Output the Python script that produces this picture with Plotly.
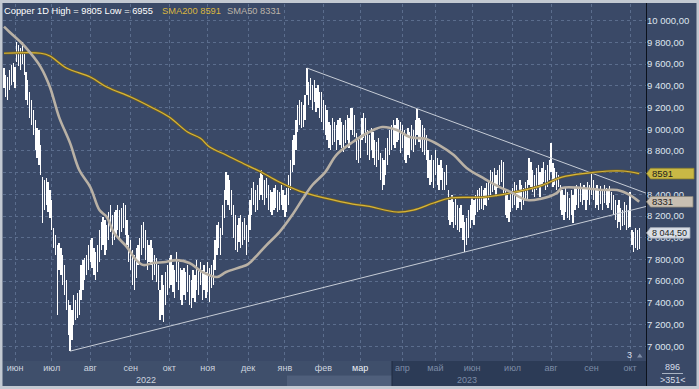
import plotly.graph_objects as go
import pandas as pd

# ---------------- data ----------------
holidays = ["2022-06-02", "2022-06-03", "2022-08-29", "2022-09-19", "2022-12-26", "2022-12-27",
            "2023-01-02", "2023-04-07", "2023-04-10", "2023-05-01", "2023-05-08", "2023-05-29",
            "2023-08-28"]
trading_days = pd.bdate_range("2022-05-24", "2023-10-09")
trading_days = trading_days[~trading_days.isin(pd.to_datetime(holidays))]

high_by_month = [
    [9564, 9500, 9482, 9546, 9592, 9610],
    [9573, 9805, 9776, 9748, 9803, 9711, 9527, 9453, 9343, 9269, 9177, 9085, 9011, 8993, 8854, 8559, 8532, 8550, 8513, 8440],
    [8347, 8089, 8025, 7932, 7951, 7905, 7840, 7748, 7610, 7426, 7380, 7334, 7472, 7426, 7490, 7518, 7748, 7794, 7812, 7840, 7932],
    [7979, 7997, 7905, 7868, 7932, 8071, 8145, 8191, 8163, 8117, 8237, 8301, 8209, 8237, 8255, 8301, 8255, 8273, 8320, 8301, 8163, 8025],
    [7979, 7887, 7840, 7905, 7932, 7997, 8117, 8145, 8071, 7979, 7932, 7979, 7905, 7840, 7812, 7748, 7518, 7656, 7564, 7684, 7748],
    [7812, 7840, 7748, 7702, 7868, 7776, 7720, 7702, 7720, 7684, 7748, 7656, 7610, 7702, 7656, 7794, 7720, 7776, 7702, 7748, 7684],
    [7776, 7720, 7748, 7794, 7979, 8117, 8145, 8089, 8301, 8440, 8606, 8578, 8532, 8440, 8301, 8209, 8117, 8181, 8209, 8145, 8181, 8117],
    [8209, 8347, 8458, 8513, 8440, 8486, 8550, 8624, 8578, 8532, 8550, 8486, 8440, 8421, 8458, 8486, 8440, 8421, 8486, 8440],
    [8393, 8458, 8578, 8716, 8900, 8946, 9085, 9223, 9269, 9250, 9223, 9315, 9564, 9435, 9472, 9407, 9453, 9380, 9407, 9343, 9343],
    [9269, 9223, 9177, 9066, 9039, 9103, 9066, 9039, 9085, 9103, 9066, 9039, 9085, 9131, 9103, 9200, 9195, 9131, 8965, 8919],
    [8946, 9103, 9149, 9103, 8993, 8946, 9011, 8974, 8900, 8882, 8919, 8780, 8735, 8716, 8826, 8919, 8993, 9039, 9085, 9039, 9103, 9085, 9066],
    [9039, 8993, 8946, 9011, 8974, 9039, 8993, 9085, 9186, 9103, 9085, 9039, 9011, 8946, 8808, 8716, 8762, 8716],
    [8808, 8735, 8670, 8716, 8643, 8606, 8670, 8440, 8347, 8393, 8329, 8366, 8301, 8273, 8301, 8209, 8145, 8181, 8255, 8301],
    [8366, 8347, 8393, 8440, 8458, 8476, 8440, 8458, 8504, 8532, 8624, 8606, 8643, 8578, 8624, 8670, 8716, 8698, 8440, 8393, 8347, 8421],
    [8458, 8513, 8486, 8440, 8532, 8486, 8458, 8513, 8532, 8734, 8698, 8624, 8578, 8643, 8670, 8606, 8643, 8698, 8624, 8670, 8716],
    [8873, 8689, 8643, 8606, 8578, 8486, 8440, 8393, 8458, 8421, 8366, 8440, 8393, 8458, 8486, 8458, 8504, 8458, 8486, 8458, 8513, 8486],
    [8605, 8532, 8458, 8486, 8440, 8476, 8440, 8486, 8458, 8440, 8476, 8421, 8393, 8347, 8301, 8347, 8273, 8255, 8329, 8301, 8255],
    [8421, 8071, 8052, 8089, 8071, 8089],
]
low_by_month = [
    [9380, 9297, 9269, 9361, 9407, 9435],
    [9380, 9620, 9582, 9546, 9601, 9500, 9269, 9223, 9103, 9039, 8946, 8808, 8735, 8670, 8578, 8135, 8255, 8301, 8237, 8181],
    [8071, 7905, 7841, 7287, 7702, 7656, 7564, 7472, 7334, 7103, 6955, 7057, 7195, 7241, 7260, 7287, 7426, 7518, 7610, 7656, 7702],
    [7776, 7720, 7656, 7610, 7684, 7776, 7887, 7932, 7840, 7887, 7979, 8052, 7932, 7979, 8025, 8071, 7979, 8052, 8089, 8025, 7932, 7776],
    [7702, 7564, 7518, 7628, 7748, 7776, 7840, 7905, 7794, 7702, 7776, 7748, 7610, 7656, 7592, 7518, 7241, 7287, 7223, 7380, 7472],
    [7536, 7564, 7500, 7444, 7592, 7518, 7426, 7380, 7472, 7426, 7500, 7380, 7352, 7444, 7407, 7518, 7472, 7564, 7426, 7518, 7444],
    [7500, 7407, 7536, 7564, 7702, 7840, 7905, 7840, 8025, 8181, 8347, 8301, 8255, 8209, 7997, 7887, 7868, 7960, 7905, 7932, 7979, 7840],
    [7960, 8071, 8209, 8301, 8237, 8255, 8347, 8393, 8347, 8301, 8366, 8255, 8237, 8209, 8255, 8273, 8237, 8255, 8301, 8255],
    [8191, 8237, 8301, 8440, 8605, 8670, 8808, 8974, 9039, 9011, 9020, 9085, 9315, 9223, 9269, 9177, 9250, 9159, 9195, 9103, 9066],
    [8993, 8946, 8900, 8826, 8808, 8854, 8882, 8808, 8900, 8854, 8826, 8790, 8873, 8900, 8826, 8993, 8946, 8928, 8716, 8689],
    [8735, 8900, 8919, 8873, 8762, 8716, 8808, 8735, 8670, 8652, 8716, 8532, 8440, 8486, 8578, 8670, 8762, 8808, 8854, 8826, 8882, 8900, 8780],
    [8826, 8716, 8689, 8762, 8735, 8808, 8790, 8854, 8946, 8882, 8826, 8790, 8762, 8716, 8550, 8486, 8513, 8458],
    [8578, 8486, 8440, 8532, 8440, 8440, 8486, 8163, 8117, 8145, 8089, 8117, 8071, 8052, 8089, 7979, 7868, 7932, 7997, 8089],
    [8163, 8117, 8209, 8237, 8255, 8264, 8255, 8301, 8292, 8347, 8393, 8421, 8440, 8375, 8458, 8486, 8513, 8412, 8209, 8181, 8145, 8237],
    [8273, 8301, 8255, 8273, 8329, 8255, 8301, 8347, 8347, 8486, 8467, 8421, 8375, 8440, 8458, 8375, 8486, 8513, 8440, 8467, 8532],
    [8605, 8467, 8486, 8440, 8467, 8255, 8209, 8163, 8237, 8181, 8163, 8209, 8135, 8255, 8301, 8273, 8329, 8301, 8347, 8255, 8347, 8301],
    [8393, 8347, 8273, 8301, 8255, 8310, 8255, 8320, 8301, 8273, 8320, 8255, 8209, 8163, 8089, 8145, 8071, 8108, 8117, 8071, 8089],
    [8099, 7932, 7868, 7905, 7887, 7900],
]
last_close = 8044.5

sma200_idx = [0, 20, 25, 34, 47, 56, 69, 80, 90, 100, 107, 112, 121, 132, 139, 150, 161, 175, 190, 198,
              214, 223, 234, 243, 262, 281, 292, 304, 318, 330, 337, 346]
sma200_val = [9700, 9700, 9675, 9564, 9481, 9389, 9297, 9205, 9112, 8974, 8916, 8836, 8762, 8670, 8615, 8513,
              8430, 8365, 8310, 8292, 8237, 8255, 8320, 8366, 8375, 8430, 8476, 8559, 8596, 8615, 8615, 8591]
sma50_idx = [0, 3, 9, 14, 20, 25, 30, 36, 41, 47, 52, 56, 60, 67, 72, 76, 81, 88, 94, 101, 108, 116, 121, 129,
             133, 138, 143, 150, 157, 163, 168, 175, 181, 190, 199, 206, 214, 221, 230, 237, 245, 252, 262, 270,
             276, 285, 292, 301, 304, 315, 326, 334, 341, 346]
sma50_val = [9945, 9896, 9804, 9711, 9573, 9389, 9112, 8872, 8624, 8467, 8255, 8191, 8043, 7914, 7794, 7748, 7767,
             7776, 7794, 7767, 7684, 7638, 7684, 7730, 7757, 7840, 7932, 8052, 8209, 8366, 8486, 8605, 8762, 8882,
             8974, 9020, 8993, 8928, 8910, 8854, 8762, 8643, 8541, 8467, 8421, 8347, 8357, 8412, 8458, 8458, 8440,
             8440, 8393, 8331]

trend_upper_idx = [165, 349.7]
trend_upper_val = [9564, 8411]
trend_lower_idx = [36, 349.7]
trend_lower_val = [6955, 8288]

month_names = ['янв', 'фев', 'мар', 'апр', 'май', 'июн', 'июл', 'авг', 'сен', 'окт', 'ноя', 'дек']
price_ticks = list(range(7000, 10001, 200))
hidden_price_labels = [8600]   # covered by the SMA200 price tag
bars_visible = 351
scroll_value = 896

# ---------------- build ----------------
high = [v for m in high_by_month for v in m]
low = [v for m in low_by_month for v in m]
idx = list(range(len(high)))

tick_idx, tick_text = [], []
prev = None
for i, d in enumerate(trading_days[:len(high)]):
    key = (d.year, d.month)
    if key != prev and i > 0:
        tick_idx.append(i)
        name = month_names[d.month - 1]
        if d.year == 2022 or d.month <= 2:
            col = '#cdd4df'
        elif d.month == 3:
            col = '#eef1f6'
        else:
            col = '#7d8ca6'
        tick_text.append(f'<span style="color:{col}">{name}</span>')
    prev = key

ytext = ['' if v in hidden_price_labels else f"{v:,.2f}".replace(',', ' ').replace('.', ',')
         for v in price_ticks]

FONT = "Liberation Sans, Arial, sans-serif"
GRID = '#5b6d8d'
BG = '#3a4967'


def px(xp):
    return (xp - 3) / 643.0


def py(yp):
    return (361 - yp) / 357.0


fig = go.Figure()
fig.add_trace(go.Bar(x=idx, y=[h - l for h, l in zip(high, low)], base=low, width=0.16,
                     marker=dict(color='#ffffff', line=dict(width=0)), hoverinfo='skip'))
fig.add_trace(go.Scatter(x=trend_upper_idx, y=trend_upper_val, mode='lines',
                         line=dict(color='#c6ccd6', width=1), hoverinfo='skip'))
fig.add_trace(go.Scatter(x=trend_lower_idx, y=trend_lower_val, mode='lines',
                         line=dict(color='#c6ccd6', width=1), hoverinfo='skip'))
fig.add_trace(go.Scatter(x=sma200_idx, y=sma200_val, mode='lines', line_shape='spline',
                         line=dict(color='#6f5e22', width=2.6), hoverinfo='skip'))
fig.add_trace(go.Scatter(x=sma200_idx, y=sma200_val, mode='lines', line_shape='spline',
                         line=dict(color='#d6b53c', width=1.2), hoverinfo='skip'))
fig.add_trace(go.Scatter(x=sma50_idx, y=sma50_val, mode='lines', line_shape='spline',
                         line=dict(color='#b9b1a5', width=2.6), hoverinfo='skip'))

shapes = []
# bottom axis strip
shapes.append(dict(type='rect', xref='paper', yref='paper', x0=px(0), x1=px(392), y0=py(386), y1=py(361),
                   fillcolor='#3f4f6b', line=dict(width=0), layer='below'))
shapes.append(dict(type='rect', xref='paper', yref='paper', x0=px(287), x1=px(392), y0=py(386), y1=py(375.5),
                   fillcolor='#4f5f7b', line=dict(width=0), layer='below'))
shapes.append(dict(type='rect', xref='paper', yref='paper', x0=px(392), x1=px(646), y0=py(386), y1=py(361),
                   fillcolor='#2c3b56', line=dict(width=0), layer='below'))
shapes.append(dict(type='line', xref='paper', yref='paper', x0=px(392), x1=px(392), y0=py(386), y1=py(361),
                   line=dict(color='#1f2b41', width=1)))
# separator between plot and right axis
shapes.append(dict(type='line', xref='paper', yref='paper', x0=px(646.5), x1=px(646.5), y0=py(387), y1=py(3),
                   line=dict(color='#0c121c', width=1)))
# outer frame
shapes.append(dict(type='rect', xref='paper', yref='paper', x0=px(1), x1=px(698), y0=py(387.5), y1=py(1.5),
                   line=dict(color='#c3c9d2', width=3), fillcolor='rgba(0,0,0,0)'))
# price tags
tags = [(sma200_val[-1], '#c9b845', '#8f8330', str(sma200_val[-1]), 694, 9.5),
        (sma50_val[-1], '#c8bfb2', '#8c857a', str(sma50_val[-1]), 693, 9.5),
        (last_close, '#d9dee6', '#9aa2ae', f"{last_close:,.2f}".replace(',', ' ').replace('.', ','), 690, 9)]
annotations = []
for v, fc, lc, txt, right, fs in tags:
    h = 5.3 * 9.217
    shapes.append(dict(type='path', xref='paper', yref='y',
                       path=f"M {px(646.5)},{v} L {px(650.5)},{v + h} L {px(right)},{v + h} "
                            f"L {px(right)},{v - h} L {px(650.5)},{v - h} Z",
                       fillcolor=fc, line=dict(color=lc, width=0.8), layer='above'))
    annotations.append(dict(xref='paper', yref='y', x=px(650), y=v, text=txt, showarrow=False,
                            xanchor='left', yanchor='middle', font=dict(size=fs, color='#1e1e1e', family=FONT)))

# small arrow near "3"
shapes.append(dict(type='path', xref='paper', yref='paper',
                   path=f"M {px(637)},{py(357.5)} L {px(642.5)},{py(357.5)} L {px(639.75)},{py(353.5)} Z",
                   fillcolor='#7f8da6', line=dict(width=0)))
# line under scroll value
shapes.append(dict(type='line', xref='paper', yref='paper', x0=px(662), x1=px(683), y0=py(373.5), y1=py(373.5),
                   line=dict(color='#a9b3c3', width=1)))

legend_txt = f"Copper 1D High = {max(high)} Low = {min(low)}"
annotations += [
    dict(xref='paper', yref='paper', x=px(2), y=py(10.5), text=legend_txt, showarrow=False,
         xanchor='left', yanchor='middle', font=dict(size=9.3, color='#ffffff', family=FONT)),
    dict(xref='paper', yref='paper', x=px(160), y=py(10.5), text=f"SMA200 {sma200_val[-1]}", showarrow=False,
         xanchor='left', yanchor='middle', font=dict(size=9.3, color='#d9b640', family=FONT)),
    dict(xref='paper', yref='paper', x=px(225), y=py(10.5), text=f"SMA50 {sma50_val[-1]}", showarrow=False,
         xanchor='left', yanchor='middle', font=dict(size=9.3, color='#bcb4a9', family=FONT)),
    dict(xref='paper', yref='paper', x=px(146), y=py(380), text='2022', showarrow=False,
         xanchor='center', yanchor='middle', font=dict(size=9, color='#cdd4df', family=FONT)),
    dict(xref='paper', yref='paper', x=px(467), y=py(380), text='2023', showarrow=False,
         xanchor='center', yanchor='middle', font=dict(size=9, color='#7d8ca6', family=FONT)),
    dict(xref='paper', yref='paper', x=px(629), y=py(355), text='3', showarrow=False,
         xanchor='center', yanchor='middle', font=dict(size=9, color='#d6dde8', family=FONT)),
    dict(xref='paper', yref='paper', x=px(672.5), y=py(367), text=str(scroll_value), showarrow=False,
         xanchor='center', yanchor='middle', font=dict(size=9, color='#d6dde8', family=FONT)),
    dict(xref='paper', yref='paper', x=px(672.5), y=py(380), text=f">{bars_visible}<", showarrow=False,
         xanchor='center', yanchor='middle', font=dict(size=9, color='#d6dde8', family=FONT)),
]

fig.update_layout(
    width=699, height=389,
    margin=dict(l=3, r=53, t=4, b=28, pad=0),
    paper_bgcolor=BG, plot_bgcolor=BG,
    showlegend=False, bargap=0,
    font=dict(family=FONT, size=9.5, color='#dfe5ee'),
    shapes=shapes, annotations=annotations,
    xaxis=dict(range=[-0.54, 349.7], tickmode='array', tickvals=tick_idx, ticktext=tick_text,
               showgrid=True, gridcolor=GRID, griddash='3px,3px', gridwidth=1,
               zeroline=False, showline=False, ticks='', tickfont=dict(size=9, family=FONT),
               fixedrange=True),
    yaxis=dict(range=[6864, 10154], side='right', tickmode='array', tickvals=price_ticks, ticktext=ytext,
               showgrid=True, gridcolor=GRID, griddash='3px,3px', gridwidth=1,
               zeroline=False, showline=False, ticks='', tickfont=dict(size=9.5, color='#dfe5ee', family=FONT),
               fixedrange=True),
)

fig.write_html("out.html", config={'displayModeBar': False},
               post_script="document.body.style.margin='0';document.body.style.overflow='hidden';")
